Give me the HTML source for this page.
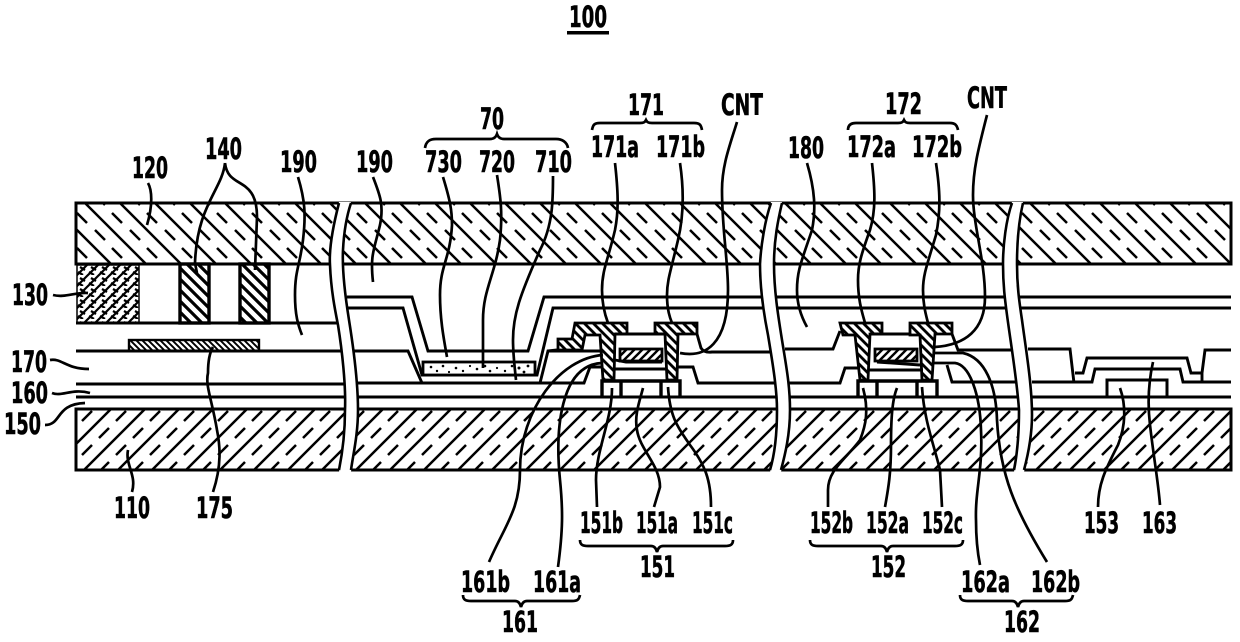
<!DOCTYPE html>
<html><head><meta charset="utf-8"><style>
html,body{margin:0;padding:0;background:#fff;width:1240px;height:642px;overflow:hidden}
svg{display:block}
text{font-family:"DejaVu Sans","Liberation Sans",sans-serif;font-weight:bold;font-size:29px;fill:#000;stroke:#000;stroke-width:.6}
.l{fill:none;stroke:#000;stroke-width:2.7}
.t{fill:none;stroke:#000;stroke-width:2.9;stroke-linejoin:miter}
.b{fill:none;stroke:#000;stroke-width:2.6}
</style></head><body>
<svg width="1240" height="642" viewBox="0 0 1240 642" xmlns="http://www.w3.org/2000/svg">
<defs>
<pattern id="gt" width="35" height="35" patternUnits="userSpaceOnUse" patternTransform="translate(22,0)">
<path d="M-5 -5L40 40M-5 30L5 40M30 -5L40 5" stroke="#000" stroke-width="2.5" fill="none"/>
<path d="M20 3L30 13M3 20L13 30" stroke="#000" stroke-width="2.5" fill="none"/>
</pattern>
<pattern id="gb" width="34" height="34" patternUnits="userSpaceOnUse" patternTransform="translate(10,0)">
<path d="M39 -5L-5 39M-5 5L5 -5M29 39L39 29" stroke="#000" stroke-width="2.5" fill="none"/>
<path d="M14 3L4 13M31 20L21 30" stroke="#000" stroke-width="2.5" fill="none"/>
</pattern>
<pattern id="bm" width="11" height="11" patternUnits="userSpaceOnUse">
<path d="M-2 13L13 -2M-2 2L2 -2M9 13L13 9" stroke="#000" stroke-width="2.2" fill="none"/>
<path d="M3 3L8 6M1 8L6 11" stroke="#000" stroke-width="2.2" fill="none"/>
</pattern>
<pattern id="cf" width="11" height="11" patternUnits="userSpaceOnUse">
<path d="M-2 -2L13 13M-2 9L2 13M9 -2L13 2" stroke="#000" stroke-width="3.2" fill="none"/>
</pattern>
<pattern id="sm" width="6" height="6" patternUnits="userSpaceOnUse">
<path d="M-1 -1L7 7M-1 5L1 7M5 -1L7 1" stroke="#000" stroke-width="1.9" fill="none"/>
</pattern>
<pattern id="m" width="9" height="9" patternUnits="userSpaceOnUse">
<path d="M-1 -1L10 10M-1 8L1 10M8 -1L10 1" stroke="#000" stroke-width="2.8" fill="none"/>
</pattern>
<pattern id="g" width="8" height="8" patternUnits="userSpaceOnUse">
<path d="M9 -1L-1 9M-1 1L1 -1M7 9L9 7" stroke="#000" stroke-width="2.4" fill="none"/>
</pattern>
</defs>

<!-- glass -->
<rect x="76" y="203" width="1155" height="61" fill="url(#gt)" stroke="#000" stroke-width="3"/>
<rect x="76" y="409" width="1155" height="61" fill="url(#gb)" stroke="#000" stroke-width="3"/>

<!-- black matrix / colour -->
<rect x="77" y="265" width="62" height="58" fill="url(#bm)" stroke="#000" stroke-width="1.5"/>
<rect x="180" y="264" width="29" height="59" fill="url(#cf)" stroke="#000" stroke-width="3.4"/>
<rect x="240" y="264" width="29" height="59" fill="url(#cf)" stroke="#000" stroke-width="3.4"/>
<rect x="129" y="340" width="130" height="11" fill="url(#sm)" stroke="#000" stroke-width="2.4"/>

<!-- seg 1 layers -->
<path class="t" d="M76 323H340M76 351H345"/>
<!-- common layers -->
<path class="t" d="M76 384H350M76 397H1231"/>

<!-- seg 2 layers -->
<path class="t" d="M347 297H412L428 351H528L544 297H772M347 308H403L422 375H537L553 308H772"/>
<path class="t" d="M347 351H408L422 383M355 383H540L548 351H600M557 350L548 351M697 334L701 348Q704 353 712 352H772M678 367H693L698 383H775M540 383H584L590 367H603"/>
<rect x="423" y="362" width="112" height="13" fill="#fff" stroke="#000" stroke-width="2.8"/>
<g fill="#000">
<circle cx="431" cy="367" r="1.3"/><circle cx="437" cy="371" r="1.2"/><circle cx="443" cy="366" r="1.3"/><circle cx="449" cy="372" r="1.1"/><circle cx="456" cy="368" r="1.3"/><circle cx="463" cy="371" r="1.2"/><circle cx="470" cy="366" r="1.1"/><circle cx="477" cy="369" r="1.3"/><circle cx="485" cy="366" r="1.3"/><circle cx="490" cy="371" r="1.3"/><circle cx="497" cy="368" r="1.1"/><circle cx="505" cy="371" r="1.2"/><circle cx="512" cy="366" r="1.3"/><circle cx="519" cy="368" r="1.5"/><circle cx="524" cy="372" r="1.4"/><circle cx="528" cy="366" r="1.4"/>
</g>

<!-- TFT1 -->
<path d="M558 339H572L575 323H627V334H615L614 380H603L600 335H585L582 350H558Z" fill="url(#m)" stroke="#000" stroke-width="2.8"/>
<path d="M655 323H697V334H678L677 380H667L665 334H655Z" fill="url(#m)" stroke="#000" stroke-width="2.8"/>
<path class="t" d="M615 334H665M614 369H667M615 360L626 362H662"/>
<rect x="620" y="349" width="42" height="12" fill="url(#g)" stroke="#000" stroke-width="2.8"/>
<path d="M602 397V381H680V397M621 381V397M661 381V397" fill="none" stroke="#000" stroke-width="3.4"/>

<!-- seg 3 layers -->
<path class="t" d="M776 297H1010M776 308H1012"/>
<path class="t" d="M785 349H833L840 331M788 383H840L845 368H860M952 334L958 350H1012M947 365L952 382H1016"/>
<path d="M840 323H882V334H870L868 380H860L855 335H843Z" fill="url(#m)" stroke="#000" stroke-width="2.8"/>
<path d="M910 323H952V334H935L932 380H922L920 335H910Z" fill="url(#m)" stroke="#000" stroke-width="2.8"/>
<path class="t" d="M870 334H910M868 370H923M877 362L920 365"/>
<rect x="875" y="349" width="42" height="12" fill="url(#g)" stroke="#000" stroke-width="2.8"/>
<path d="M858 397V381H937V397M877 381V397M917 381V397" fill="none" stroke="#000" stroke-width="3.4"/>

<!-- seg 4 layers -->
<path class="t" d="M1018 297H1231M1018 308H1231"/>
<path class="t" d="M1028 349H1070L1074 383M1075 373H1083L1087 358H1187L1191 373H1202L1205 350H1231M1202 373V383"/>
<path class="t" d="M1032 382H1092L1095 369H1180L1183 382H1231"/>
<path d="M1107 397V380H1167V397" fill="none" stroke="#000" stroke-width="3"/>

<!-- seg top line -->
<path class="t" d="M76 264H1231"/>

<!-- breaks -->
<path d="M339 202C332 230 329 250 330 265C331 290 335 310 338 325C342 350 346 385 345 410C345 440 341 460 339 472H351C353 455 358 435 358 410C358 380 353 345 349 320C345 295 342 270 343 250C344 230 347 215 351 202Z" fill="#fff"/>
<path class="b" d="M339 203C332 230 329 250 330 265C331 290 335 310 338 325C342 350 346 385 345 410C345 440 341 460 339 470M351 203C347 215 344 230 343 250C342 270 345 295 349 320C353 345 358 380 358 410C358 435 353 455 351 470"/>
<path d="M771 202C765 220 761 245 760 264C760 290 764 315 768 335C773 365 777 390 777 410C777 440 773 460 770 472H781C785 455 790 435 790 410C790 385 786 365 782 340C778 315 774 290 774 264C774 240 778 220 782 202Z" fill="#fff"/>
<path class="b" d="M771 203C765 220 761 245 760 264C760 290 764 315 768 335C773 365 777 390 777 410C777 440 773 460 770 470M782 203C778 220 774 240 774 264C774 290 778 315 782 340C786 365 790 385 790 410C790 435 785 455 781 470"/>
<path d="M1012 202C1006 220 1003 245 1003 264C1003 285 1005 300 1007 315C1011 345 1017 380 1019 410C1019 440 1016 460 1014 472H1024C1028 455 1032 435 1032 415C1032 385 1026 350 1022 320C1019 300 1017 285 1017 264C1017 240 1019 220 1023 202Z" fill="#fff"/>
<path class="b" d="M1012 203C1006 220 1003 245 1003 264C1003 285 1005 300 1007 315C1011 345 1017 380 1019 410C1019 440 1016 460 1014 470M1023 203C1019 220 1017 240 1017 264C1017 285 1019 300 1022 320C1026 350 1032 385 1032 415C1032 435 1028 455 1024 470"/>

<!-- leaders -->
<path class="l" d="M148 183C152 190 153 205 147 225"/>
<path class="l" d="M225 163C222 190 197 205 195 263L197 273M225 163C228 190 257 175 257 217L255 270"/>
<path class="l" d="M298 177C305 200 306 215 303 240C300 265 295 270 295 295C295 315 298 325 302 335"/>
<path class="l" d="M53 295C65 298 75 292 88 293M50 360C62 358 66 369 89 369M52 393C62 397 72 388 90 393M45 425C62 425 55 404 85 403"/>
<path class="l" d="M132 492C137 475 125 465 128 450"/>
<path class="l" d="M213 492C222 465 220 445 217 430C212 400 205 385 208 373C208 360 210 352 213 347"/>
<path class="l" d="M373 177C380 195 384 205 380 225C374 250 370 255 373 282"/>
<path class="l" d="M443 177C450 200 452 210 452 225C450 260 440 265 440 295C440 320 444 340 447 357"/>
<path class="l" d="M497 175C500 195 503 210 500 240C495 275 483 290 483 320L483 368"/>
<path class="l" d="M553 176C553 200 553 225 540 250C520 295 513 315 513 340C513 355 515 370 516 380"/>
<path class="l" d="M615 163C618 190 619 210 615 230C608 260 602 270 602 290C602 305 605 315 608 323"/>
<path class="l" d="M680 163C684 190 684 215 678 240C671 270 667 280 667 295C667 310 670 318 672 323"/>
<path class="l" d="M737 122C730 145 722 165 722 190C722 230 728 260 728 290C728 345 705 358 680 353"/>
<path class="l" d="M489 562C505 525 520 510 520 470C520 410 560 358 603 355"/>
<path class="l" d="M558 567C563 530 563 510 560 480C555 430 560 365 602 363"/>
<path class="l" d="M612 388C612 420 596 450 596 480L597 507"/>
<path class="l" d="M643 388C640 400 634 415 637 430C640 450 660 465 660 487L654 507"/>
<path class="l" d="M668 387C670 420 680 430 690 445C705 465 711 480 711 507"/>
<path class="l" d="M807 163C815 190 816 210 812 230C802 260 797 270 797 290C797 305 802 318 807 327"/>
<path class="l" d="M872 163C875 190 876 210 870 230C861 255 858 265 858 280C858 300 862 312 865 323"/>
<path class="l" d="M936 163C940 190 941 210 936 235C927 265 923 275 923 290C923 305 926 315 928 323"/>
<path class="l" d="M987 115C978 150 973 170 973 195C973 225 985 260 985 297C985 330 965 345 935 347"/>
<path class="l" d="M863 388C869 410 866 425 860 440C845 460 828 470 828 490L828 507"/>
<path class="l" d="M897 388C892 400 891 420 891 445C891 475 888 490 885 507"/>
<path class="l" d="M922 387C924 420 934 445 940 470L942 507"/>
<path class="l" d="M933 363H955C970 365 980 395 981 430C983 470 975 490 976 520C976 540 978 555 980 565"/>
<path class="l" d="M935 353H963C985 358 996 385 997 420C1000 475 1015 510 1047 562"/>
<path class="l" d="M1120 388C1126 405 1126 425 1118 445C1105 470 1098 485 1098 507"/>
<path class="l" d="M1153 362C1149 380 1147 400 1150 425C1154 460 1158 480 1160 505"/>

<!-- braces -->
<path class="l" d="M425 148C426 141 430 139 436 139H490C494 139 496 137 497 134C498 137 500 139 504 139H556C562 139 567 142 568 148"/>
<path class="l" d="M592 130C593 125 594 123 600 123H640C644 123 645 122 646 120C647 122 648 123 652 123H694C700 123 701 125 702 130"/>
<path class="l" d="M848 130C848 125 851 123 856 123H898C902 123 903 122 904 120C905 122 906 123 910 123H950C955 123 957 125 958 130"/>
<path class="l" d="M580 540C580 545 583 546 588 546H651C654 546 656 548 657 552C658 548 660 546 663 546H725C730 546 733 545 733 540"/>
<path class="l" d="M810 540C810 545 813 546 818 546H881C884 546 886 548 887 552C888 548 890 546 893 546H955C960 546 963 545 963 540"/>
<path class="l" d="M463 595C463 600 466 601 471 601H515C518 601 520 603 521 607C522 603 524 601 527 601H572C577 601 579 600 580 595"/>
<path class="l" d="M960 595C960 600 963 601 968 601H1012C1015 601 1017 603 1018 607C1019 603 1021 601 1024 601H1065C1070 601 1072 600 1073 595"/>

<!-- labels -->
<text x="569" y="27" textLength="38" lengthAdjust="spacingAndGlyphs">100</text>
<rect x="567" y="31" width="42" height="3.5" fill="#000"/>
<text x="132" y="178" textLength="36" lengthAdjust="spacingAndGlyphs">120</text>
<text x="205" y="159" textLength="37" lengthAdjust="spacingAndGlyphs">140</text>
<text x="280" y="172" textLength="37" lengthAdjust="spacingAndGlyphs">190</text>
<text x="12" y="305" textLength="36" lengthAdjust="spacingAndGlyphs">130</text>
<text x="11" y="372" textLength="36" lengthAdjust="spacingAndGlyphs">170</text>
<text x="11" y="403" textLength="37" lengthAdjust="spacingAndGlyphs">160</text>
<text x="4" y="434" textLength="37" lengthAdjust="spacingAndGlyphs">150</text>
<text x="114" y="518" textLength="36" lengthAdjust="spacingAndGlyphs">110</text>
<text x="196" y="518" textLength="37" lengthAdjust="spacingAndGlyphs">175</text>
<text x="356" y="172" textLength="37" lengthAdjust="spacingAndGlyphs">190</text>
<text x="425" y="172" textLength="37" lengthAdjust="spacingAndGlyphs">730</text>
<text x="479" y="172" textLength="36" lengthAdjust="spacingAndGlyphs">720</text>
<text x="535" y="172" textLength="37" lengthAdjust="spacingAndGlyphs">710</text>
<text x="480" y="129" textLength="24" lengthAdjust="spacingAndGlyphs">70</text>
<text x="628" y="115" textLength="36" lengthAdjust="spacingAndGlyphs">171</text>
<text x="591" y="157" textLength="48" lengthAdjust="spacingAndGlyphs">171a</text>
<text x="656" y="157" textLength="49" lengthAdjust="spacingAndGlyphs">171b</text>
<text x="721" y="115" textLength="42" lengthAdjust="spacingAndGlyphs">CNT</text>
<text x="885" y="114" textLength="37" lengthAdjust="spacingAndGlyphs">172</text>
<text x="847" y="157" textLength="49" lengthAdjust="spacingAndGlyphs">172a</text>
<text x="912" y="157" textLength="50" lengthAdjust="spacingAndGlyphs">172b</text>
<text x="788" y="158" textLength="36" lengthAdjust="spacingAndGlyphs">180</text>
<text x="967" y="108" textLength="40" lengthAdjust="spacingAndGlyphs">CNT</text>
<text x="580" y="533" textLength="43" lengthAdjust="spacingAndGlyphs">151b</text>
<text x="636" y="533" textLength="42" lengthAdjust="spacingAndGlyphs">151a</text>
<text x="692" y="533" textLength="41" lengthAdjust="spacingAndGlyphs">151c</text>
<text x="640" y="577" textLength="35" lengthAdjust="spacingAndGlyphs">151</text>
<text x="810" y="533" textLength="43" lengthAdjust="spacingAndGlyphs">152b</text>
<text x="866" y="533" textLength="43" lengthAdjust="spacingAndGlyphs">152a</text>
<text x="922" y="533" textLength="41" lengthAdjust="spacingAndGlyphs">152c</text>
<text x="871" y="577" textLength="35" lengthAdjust="spacingAndGlyphs">152</text>
<text x="1084" y="533" textLength="35" lengthAdjust="spacingAndGlyphs">153</text>
<text x="1142" y="533" textLength="35" lengthAdjust="spacingAndGlyphs">163</text>
<text x="461" y="592" textLength="49" lengthAdjust="spacingAndGlyphs">161b</text>
<text x="533" y="592" textLength="48" lengthAdjust="spacingAndGlyphs">161a</text>
<text x="502" y="632" textLength="36" lengthAdjust="spacingAndGlyphs">161</text>
<text x="961" y="592" textLength="49" lengthAdjust="spacingAndGlyphs">162a</text>
<text x="1031" y="592" textLength="49" lengthAdjust="spacingAndGlyphs">162b</text>
<text x="1004" y="632" textLength="36" lengthAdjust="spacingAndGlyphs">162</text>
</svg>
</body></html>
